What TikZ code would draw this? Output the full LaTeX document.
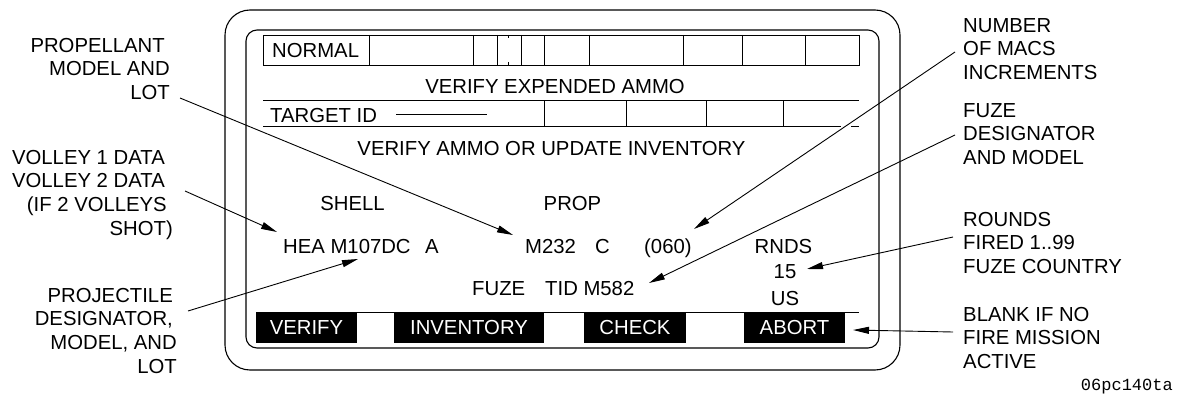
\documentclass[tikz,border=0pt]{standalone}
\usepackage{fontspec}
\setmainfont{Liberation Sans}
\setmonofont{Liberation Mono}
\usetikzlibrary{arrows.meta}

\tikzset{
	frame/.style={line width=1.1pt},
	gridline/.style={line width=0.9pt},
	txt/.style={inner sep=0pt, font=\fontsize{20.3}{23.6}\selectfont},
	softkey/.style={txt, fill=black, text=white, minimum height=31pt},
	notel/.style={txt, align=right, anchor=north east},
	noter/.style={txt, align=left, anchor=north west},
	callout/.style={line width=0.9pt, -{Triangle[length=16pt,width=7pt]}},
}

\begin{document}
\begin{tikzpicture}[x=1pt, y=-1pt]
		% Drawing units are pixels of the screen shot, y grows downward.
		\useasboundingbox (0,0) rectangle (1181,396);

		% Bezel and screen.
		\draw[frame, rounded corners=25pt] (225,10) rectangle (900,370);
		\draw[frame, rounded corners=11pt] (246,30) rectangle (879,348);

		% Status line.
		\draw[gridline] (263,35) rectangle (859,65);
		\foreach \x in {369,473,497,521,544,589,683,742,805} {
			\draw[gridline] (\x,35) -- (\x,65);
		}
		\draw[gridline] (508,35) -- (508,38) (508,62) -- (508,65);
		\node[txt, anchor=base west] (normal) at (272,58) {NORMAL};

		\node[txt, anchor=base] (title) at (555,93) {VERIFY EXPENDED AMMO};

		% Target line.
		\draw[gridline] (263,100) -- (859,100);
		\draw[gridline] (263,126) -- (841,126) (851,126) -- (859,126);
		\foreach \x in {544,626,706,783} {
			\draw[gridline] (\x,100) -- (\x,126);
		}
		\node[txt, anchor=base west] (target) at (270,122) {TARGET ID};
		\draw[gridline] (396,114) -- (487,114);

		\node[txt, anchor=base] (prompt) at (551.5,155)
			{VERIFY AMMO OR UPDATE INVENTORY};

		% Ammunition data.
		\node[txt, anchor=base] (shell) at (352.5,210) {SHELL};
		\node[txt, anchor=base] (prop) at (572.5,210) {PROP};
		\node[txt, anchor=base west] (proj) at (283,253) {HEA M107DC};
		\node[txt, anchor=base west] (projlot) at (425,253) {A};
		\node[txt, anchor=base west] (propmod) at (525,253) {M232};
		\node[txt, anchor=base west] (proplot) at (595,253) {C};
		\node[txt, anchor=base west] (macs) at (644,253) {(060)};
		\node[txt, anchor=base] (rnds) at (783.5,253) {RNDS};
		\node[txt, anchor=base] (fired) at (785,278) {15};
		\node[txt, anchor=base] (country) at (785,305) {US};
		\node[txt, anchor=base west] (fuze) at (472,295) {FUZE};
		\node[txt, anchor=base west] (fuzeid) at (545,295) {TID M582};

		% Soft keys.
		\draw[gridline] (256,312) -- (859,312);
		\node[softkey, minimum width=101pt] (kverify) at (306.5,327.5) {VERIFY};
		\node[softkey, minimum width=150pt] (kinv) at (469,327.5) {INVENTORY};
		\node[softkey, minimum width=102pt] (kcheck) at (635,327.5) {CHECK};
		\node[softkey, minimum width=101pt] (kabort) at (794.5,327.5) {ABORT};

		% Notes on the left.
		\node[notel] (nprop) at (170,38)
			{PROPELLANT\rule{5pt}{0pt}\\MODEL AND\\LOT};
		\node[notel] (nvolley) at (173,150)
			{VOLLEY 1 DATA\rule{8pt}{0pt}\\VOLLEY 2 DATA\rule{8pt}{0pt}\\
			(IF 2 VOLLEYS\rule{6pt}{0pt}\\SHOT)};
		\node[notel] (nproj) at (177,288)
			{PROJECTILE\rule{4pt}{0pt}\\DESIGNATOR,\rule{4pt}{0pt}\\
			MODEL, AND\\LOT};

		% Notes on the right.
		\node[noter] (nmacs) at (963,18) {NUMBER\\OF MACS\\INCREMENTS};
		\node[noter] (nfuze) at (963,103) {FUZE\\DESIGNATOR\\AND MODEL};
		\node[noter] (nrnds) at (963,212) {ROUNDS\\FIRED 1..99\\FUZE COUNTRY};
		\node[noter] (nblank) at (963,307) {BLANK IF NO\\FIRE MISSION\\ACTIVE};

		\node[anchor=base east, inner sep=0pt,
			font=\ttfamily\fontsize{17}{20}\selectfont] (figid) at (1173,390)
			{06pc140ta};

		% Callout ends.
		\coordinate (sprop) at (180,98);
		\coordinate (tprop) at (513,235);
		\coordinate (svolley) at (185,191);
		\coordinate (tvolley) at (277,232);
		\coordinate (sproj) at (188,311);
		\coordinate (tproj) at (358,259);
		\coordinate (smacs) at (955,52);
		\coordinate (tmacs) at (694,229);
		\coordinate (sfuze) at (955,135);
		\coordinate (tfuze) at (649,283);
		\coordinate (srnds) at (953,237);
		\coordinate (trnds) at (807,269);
		\coordinate (sblank) at (953,332);
		\coordinate (tblank) at (853,330);

		\foreach \n in {prop,volley,proj,macs,fuze,rnds,blank} {
			\draw[callout] (s\n) -- (t\n);
		}
	\end{tikzpicture}
\end{document}
